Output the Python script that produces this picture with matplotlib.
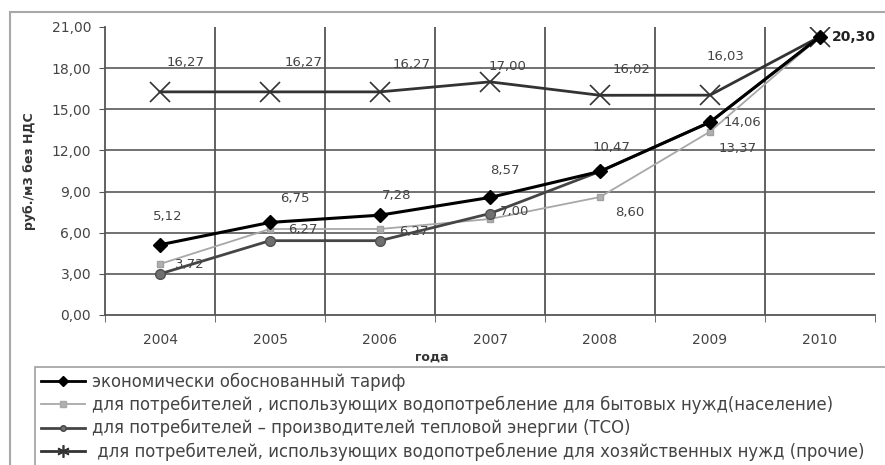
import matplotlib
matplotlib.use("Agg")
import matplotlib.pyplot as plt
from matplotlib.patches import Rectangle
from matplotlib.ticker import FuncFormatter

years = ["2004", "2005", "2006", "2007", "2008", "2009", "2010"]

econ = [5.12, 6.75, 7.28, 8.57, 10.47, 14.06, 20.30]          # экономически обоснованный тариф
naselenie = [3.72, 6.27, 6.27, 7.00, 8.60, 13.37, 20.30]      # население
tso = [3.00, 5.42, 5.42, 7.40, 10.47, 14.06, 20.30]           # ТСО (подписей нет)
prochie = [16.27, 16.27, 16.27, 17.00, 16.02, 16.03, 20.30]   # прочие

names = [
    "экономически обоснованный тариф",
    "для потребителей , использующих водопотребление для бытовых нужд(население)",
    "для потребителей \u2013 производителей тепловой энергии (ТСО)",
    " для потребителей, использующих водопотребление для хозяйственных нужд (прочие)",
]

# смещения подписей в пикселях (только раскладка)
econ_off = [(8, 28), (25, 24), (17, 20), (15, 27), (12, 24), (14, 0), (12, 0)]
nas_off = [(30, -1), (33, 0), (34, -2), (25, 7), (30, -15), (28, -17)]
pro_off = [(26, 29), (34, 29), (32, 27), (17, 15), (31, 26), (16, 39)]

def fmt(v):
    return f"{v:.2f}".replace(".", ",")

W, H = 885, 465
fig = plt.figure(figsize=(W / 100, H / 100), dpi=100)
ax = fig.add_axes([105 / W, 1 - 315 / H, 770 / W, 288 / H])

x = list(range(len(years)))

ax.plot(x, tso, color="#454545", lw=2, marker="o", ms=7, mfc="#707070", mec="#505050", zorder=4)
ax.plot(x, naselenie, color="#a8a8a8", lw=1.3, marker="s", ms=5, mfc="#b0b0b0", mec="#a0a0a0", zorder=3)
ax.plot(x, econ, color="black", lw=2.2, marker="D", ms=7, zorder=5)
ax.plot(x, prochie, color="#333333", lw=2, marker="x", ms=14, mew=1.2, zorder=4)

lab = dict(fontsize=9.5, color="#444444", ha="center", va="center", textcoords="offset pixels")
for i, v in enumerate(econ[:5]):
    ax.annotate(fmt(v), (i, v), xytext=econ_off[i], **lab)
ax.annotate(fmt(econ[5]), (5, econ[5]), xytext=econ_off[5], fontsize=9.5, color="#444444",
            ha="left", va="center", textcoords="offset pixels")
ax.annotate(fmt(econ[6]), (6, econ[6]), xytext=econ_off[6], fontsize=10, color="#222222",
            fontweight="bold", ha="left", va="center", textcoords="offset pixels")
for i, v in enumerate(naselenie[:6]):
    ax.annotate(fmt(v), (i, v), xytext=nas_off[i], **lab)
for i, v in enumerate(prochie[:6]):
    ax.annotate(fmt(v), (i, v), xytext=pro_off[i], **lab)

ax.set_xlim(-0.5, len(years) - 0.5)
ax.set_ylim(0, 21)
ax.set_yticks(range(0, 22, 3))
ax.yaxis.set_major_formatter(FuncFormatter(lambda v, p: fmt(v)))
ax.set_xticks(x)
ax.set_xticklabels(years)
ax.set_xticks([i - 0.5 for i in range(len(years) + 1)], minor=True)
ax.tick_params(axis="x", which="major", length=0, pad=13, labelsize=10, labelcolor="#444444")
ax.tick_params(axis="x", which="minor", length=5, color="#555555", direction="out")
ax.tick_params(axis="y", length=4, color="#555555", labelsize=10, labelcolor="#444444", pad=6)

for yv in range(3, 19, 3):
    ax.axhline(yv, color="#666666", lw=1.3, zorder=1)
for i in range(1, len(years)):
    ax.axvline(i - 0.5, color="#555555", lw=1.3, zorder=1)

for s in ["top", "right"]:
    ax.spines[s].set_visible(False)
ax.spines["left"].set_color("#555555")
ax.spines["bottom"].set_color("#555555")
ax.spines["left"].set_linewidth(1.3)
ax.spines["bottom"].set_linewidth(1.3)

ax.set_xlabel("года", fontsize=9, fontweight="bold", color="#333333")
ax.xaxis.set_label_coords(0.425, -0.125)
ax.set_ylabel("руб./м3 без НДС", fontsize=9, fontweight="bold", color="#333333")
ax.yaxis.set_label_coords(-0.09, 0.5)

# внешняя рамка диаграммы
fig.patches.append(Rectangle((10 / W, -0.2), 1.2, 1.2 - 12 / H, transform=fig.transFigure,
                             fill=False, edgecolor="#a8a8a8", lw=1.5))

handles = [
    plt.Line2D([], [], color="black", lw=2, marker="D", ms=5),
    plt.Line2D([], [], color="#a8a8a8", lw=1.3, marker="s", ms=4, mfc="#b0b0b0"),
    plt.Line2D([], [], color="#454545", lw=2, marker="o", ms=4, mfc="#707070"),
    plt.Line2D([], [], color="#333333", lw=2, marker=(6, 2, 0), ms=9, mew=1.2),
]
leg = fig.legend(handles, names, loc="upper left",
                 bbox_to_anchor=(35 / W, 1 - 367 / H - 0.3, 1.0, 0.3), mode="expand",
                 fontsize=11.9, frameon=True, fancybox=False, edgecolor="#888888",
                 borderaxespad=0, borderpad=0.35, labelspacing=0.3, handlelength=2.7,
                 handletextpad=0.4, labelcolor="#444444")
leg.get_frame().set_linewidth(1.2)

fig.savefig("out.png", dpi=100)
